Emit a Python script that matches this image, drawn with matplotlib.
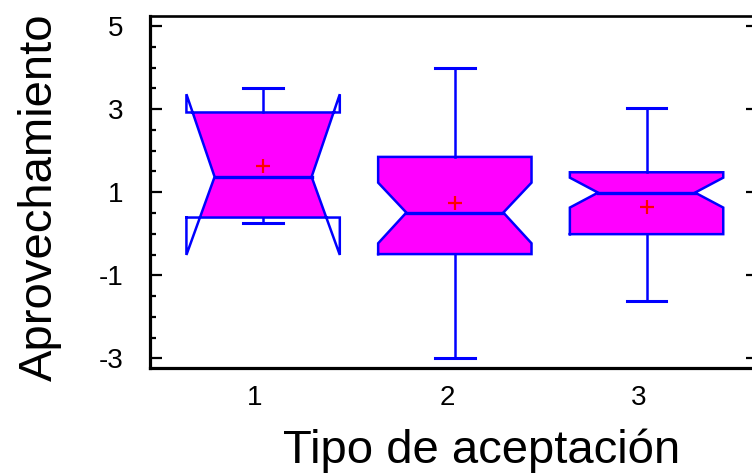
import numpy as np
import matplotlib
matplotlib.use("Agg")
import matplotlib.pyplot as plt
import matplotlib.transforms as mtransforms

plt.rcParams['font.family'] = ['Liberation Sans', 'DejaVu Sans']
plt.rcParams['axes.unicode_minus'] = False

# box plot summary values
groups = [1, 2, 3]
group_labels = ['1', '2', '3']
q1 = [0.39, -0.49, -0.01]
med = [1.37, 0.51, 0.99]
q3 = [2.92, 1.85, 1.48]
whis_lo = [0.27, -3.00, -1.61]
whis_hi = [3.50, 3.98, 3.02]
means = [1.64, 0.73, 0.65]
notch_lo = [-0.51, -0.23, 0.63]
notch_hi = [3.36, 1.23, 1.35]

W = 0.40      # box half width
NW = 0.253    # half width at the median
CAP = 0.104   # whisker cap half width

fig = plt.figure(figsize=(7.52, 4.73), dpi=100)
ax = fig.add_axes([150 / 752, 1 - 368.3 / 473, 602 / 752, (368.3 - 15.7) / 473])


def half_width(y, m, lo, hi):
    ci = hi if y >= m else lo
    d = abs(ci - m)
    if d == 0:
        return W
    return min(W, NW + (W - NW) * abs(y - m) / d)


for c, a, m, b, lo, hi, wl, wh in zip(groups, q1, med, q3, notch_lo, notch_hi,
                                      whis_lo, whis_hi):
    # filled part: inside box and inside notch
    right = [(half_width(a, m, lo, hi), a)]
    if lo > a:
        right.append((W, lo))
    right.append((NW, m))
    if hi < b:
        right.append((W, hi))
    right.append((half_width(b, m, lo, hi), b))
    left = [(-dx, y) for dx, y in reversed(right)]
    pts = right + left
    ax.fill([c + dx for dx, y in pts], [y for dx, y in pts],
            color='#ff00ff', lw=0, zorder=2)

    # outline (box + notch)
    xs = [c - W, c + W, c + W, c + NW, c + W, c + W, c - W, c - W, c - NW, c - W, c - W]
    ys = [a, a, lo, m, hi, b, b, hi, m, lo, a]
    ax.plot(xs, ys, color='#0000ff', lw=1.8, zorder=3, solid_joinstyle='miter')
    ax.plot([c - NW, c + NW], [m, m], color='#0000ff', lw=2.4, zorder=3)

    # whiskers
    ax.plot([c, c], [b, wh], color='#0000ff', lw=1.8, zorder=3)
    ax.plot([c, c], [a, wl], color='#0000ff', lw=1.8, zorder=3)
    ax.plot([c - CAP, c + CAP], [wh, wh], color='#0000ff', lw=2.2, zorder=3)
    ax.plot([c - CAP, c + CAP], [wl, wl], color='#0000ff', lw=2.2, zorder=3)

ax.plot(groups, means, '+', color='#ff0000', ms=10, mew=1.6, zorder=4)

ax.set_xlim(0.41, 3.55)
ax.set_ylim(-3.24, 5.25)

ax.set_xticks(groups)
ax.set_xticklabels(group_labels)
ax.set_yticks([-3, -1, 1, 3, 5])
ax.set_yticks(np.arange(-3, 5.01, 0.5), minor=True)
ax.tick_params(axis='x', length=0, labelsize=20, pad=12)
ax.tick_params(axis='y', which='major', direction='in', length=8.5, width=1.6,
               labelsize=20, pad=19)
ax.tick_params(axis='y', which='minor', direction='in', length=4.3, width=1.6)
offset = mtransforms.ScaledTranslation(-8 / 100, 0, fig.dpi_scale_trans)
for lab in ax.get_xticklabels():
    lab.set_transform(lab.get_transform() + offset)

for s in ['left', 'bottom']:
    ax.spines[s].set_linewidth(2.3)
ax.spines['top'].set_linewidth(1.9)
ax.spines['right'].set_visible(False)

# short ticks on the right edge
ax2 = ax.twinx()
ax2.set_ylim(ax.get_ylim())
ax2.set_yticks([-3, -1, 1, 3, 5])
ax2.tick_params(axis='y', direction='in', length=4, width=1.6, labelright=False)
for s in ax2.spines.values():
    s.set_visible(False)

fig.text(51.5 / 752, 1 - 197 / 473, 'Aprovechamiento', rotation=90,
         rotation_mode='anchor', ha='center', va='baseline', fontsize=34)
fig.text(481.7 / 752, 10 / 473, 'Tipo de aceptación', ha='center',
         va='baseline', fontsize=34)

fig.savefig('out.png', dpi=100)
